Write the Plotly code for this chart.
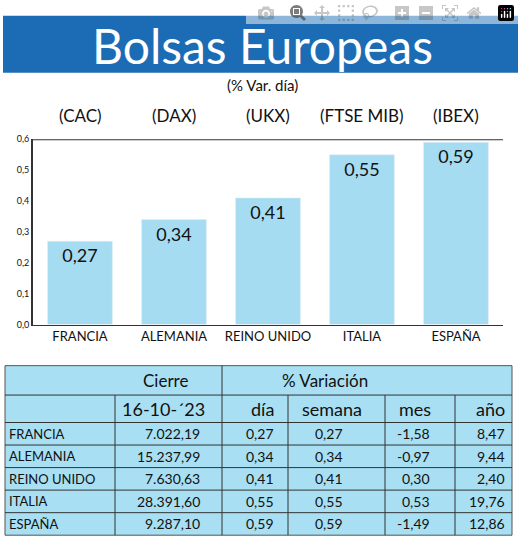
import plotly.graph_objects as go

paises = ["FRANCIA", "ALEMANIA", "REINO UNIDO", "ITALIA", "ESPAÑA"]
indices = ["(CAC)", "(DAX)", "(UKX)", "(FTSE MIB)", "(IBEX)"]
var_dia = [0.27, 0.34, 0.41, 0.55, 0.59]
cierre = ["7.022,19", "15.237,99", "7.630,63", "28.391,60", "9.287,10"]
dia = ["0,27", "0,34", "0,41", "0,55", "0,59"]
semana = ["0,27", "0,34", "0,41", "0,55", "0,59"]
mes = ["-1,58", "-0,97", "0,30", "0,53", "-1,49"]
anio = ["8,47", "9,44", "2,40", "19,76", "12,86"]
y_ticks = [0, 0.1, 0.2, 0.3, 0.4, 0.5, 0.6]
y_ticktext = ["0,0", "0,1", "0,2", "0,3", "0,4", "0,5", "0,6"]

W, H = 520, 550
def px(x): return x / W
def py(y): return 1 - y / H

FONT = "Lato"
BAR = "#a6dcf2"

fig = go.Figure()
fig.add_trace(go.Bar(
    x=paises, y=var_dia, marker_color=BAR, width=0.69,
    text=[f"{v:.2f}".replace(".", ",") for v in var_dia],
    textposition="inside", insidetextanchor="end",
    textfont=dict(family=FONT, size=18, color="#111"),
    hoverinfo="skip"))

shapes, ann = [], []
shapes.append(dict(type="rect", xref="paper", yref="paper", x0=px(3), x1=px(518), y0=py(68), y1=py(10),
                   fillcolor="#1b6cb4", line_width=0, layer="below"))
ann.append(dict(text="Bolsas Europeas", x=px(262), y=py(40), xref="paper", yref="paper", showarrow=False,
                font=dict(family=FONT, size=48, color="white"), yanchor="middle"))
ann.append(dict(text="(% Var. día)", x=px(262), y=py(81), xref="paper", yref="paper", showarrow=False,
                font=dict(family=FONT, size=15, color="#111"), yanchor="middle"))
for i, t in enumerate(indices):
    ann.append(dict(text=t, x=paises[i], y=py(112), xref="x", yref="paper", showarrow=False,
                    font=dict(family=FONT, size=17, color="#111"), yanchor="middle"))
shapes.append(dict(type="line", xref="paper", yref="y", x0=px(33), x1=px(503), y0=0.6, y1=0.6,
                   line=dict(color="#333", width=2)))

T0, T1 = 367, 540
cols = [5, 115, 222, 288, 385, 455, 512]
rows = [367, 397, 425, 448, 471, 494, 517, 540]
shapes.append(dict(type="rect", xref="paper", yref="paper", x0=px(cols[0]), x1=px(cols[-1]),
                   y0=py(T1), y1=py(T0), fillcolor="#a8dff2", line=dict(color="#555", width=1), layer="below"))
for r in rows[1:-1]:
    shapes.append(dict(type="line", xref="paper", yref="paper", x0=px(cols[0]), x1=px(cols[-1]),
                       y0=py(r), y1=py(r), line=dict(color="#333", width=1)))
shapes.append(dict(type="line", xref="paper", yref="paper", x0=px(222), x1=px(222), y0=py(T0), y1=py(T1),
                   line=dict(color="#333", width=1)))
for c in [115, 288, 385, 455]:
    shapes.append(dict(type="line", xref="paper", yref="paper", x0=px(c), x1=px(c), y0=py(397), y1=py(T1),
                       line=dict(color="#333", width=1)))

def txt(s, x, y, size=14, anchor="right"):
    ann.append(dict(text=s, x=px(x), y=py(y), xref="paper", yref="paper", showarrow=False,
                    xanchor=anchor, yanchor="middle", font=dict(family=FONT, size=size, color="#111")))

txt("Cierre", 165, 382, 17, "center")
txt("% Variación", 325, 382, 17, "center")
txt("16-10-´23", 207, 411, 18)
txt("día", 276, 411, 18)
txt("semana", 364, 411, 18)
txt("mes", 433, 411, 18)
txt("año", 507, 411, 18)
for i in range(5):
    yc = (rows[i + 2] + rows[i + 3]) / 2
    txt(paises[i], 7, yc, 13, "left")
    txt(cierre[i], 202, yc, 14)
    txt(dia[i], 276, yc, 14)
    txt(semana[i], 345, yc, 14)
    txt(mes[i], 432, yc, 14)
    txt(anio[i], 507, yc, 14)

fig.update_layout(
    width=W, height=H, margin=dict(l=0, r=0, t=0, b=0),
    paper_bgcolor="white", plot_bgcolor="white", showlegend=False,
    shapes=shapes, annotations=ann, bargap=0.3,
    xaxis=dict(domain=[px(33), px(503)], range=[-0.5, 4.5], showgrid=False,
               showline=True, linecolor="#333", linewidth=1, ticks="",
               tickfont=dict(family=FONT, size=13, color="#111")),
    yaxis=dict(domain=[py(325), py(136)], range=[0, 0.6], tickvals=y_ticks, ticktext=y_ticktext,
               showgrid=False, showline=True, linecolor="#333", linewidth=2, ticks="",
               tickfont=dict(family=FONT, size=9, color="#111")),
)
fig.write_html("out.html")
with open("out.html", encoding="utf-8") as f:
    html = f.read()
html = html.replace("<head>", "<head><style>html,body{margin:0;padding:0;overflow:hidden}</style>", 1)
with open("out.html", "w", encoding="utf-8") as f:
    f.write(html)
